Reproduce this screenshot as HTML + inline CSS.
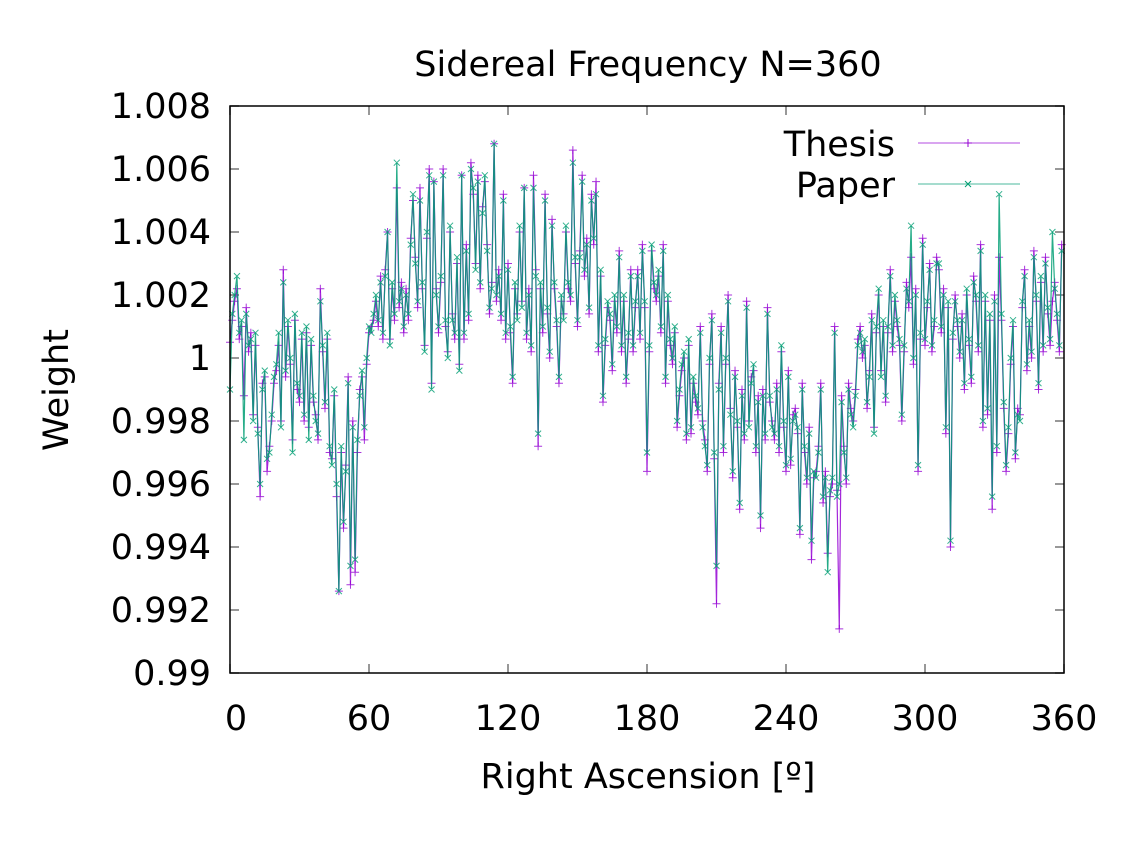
<!DOCTYPE html>
<html><head><meta charset="utf-8"><style>
body{margin:0;background:#fff}
svg text{font-family:"DejaVu Sans","Liberation Sans",sans-serif}
</style></head><body>
<svg id="chart" width="1131" height="850" viewBox="0 0 1131 850" xmlns="http://www.w3.org/2000/svg">
<rect width="1131" height="850" fill="#fff"/>
<text x="648" y="76" font-size="35" text-anchor="middle">Sidereal Frequency N=360</text>
<text x="0" y="0" font-size="35" text-anchor="middle" transform="translate(68,390) rotate(-90)">Weight</text>
<text x="648" y="788" font-size="35" text-anchor="middle">Right Ascension [º]</text>
<g id="ticks"></g>
<g id="series"></g>
<rect x="230" y="106" width="834" height="567" fill="none" stroke="#000" stroke-width="1.5"/>
<g>
<text x="895" y="156" font-size="35" text-anchor="end">Thesis</text>
<line x1="918" y1="143" x2="1020" y2="143" stroke="#9400d3" stroke-width="1" opacity="0.7"/>
<path d="M964 143h8M968 139v8" stroke="#9400d3" stroke-width="1"/>
<text x="895" y="197" font-size="35" text-anchor="end">Paper</text>
<line x1="918" y1="184" x2="1020" y2="184" stroke="#009e73" stroke-width="1" opacity="0.7"/>
<path d="M965 181l6 6M971 181l-6 6" stroke="#009e73" stroke-width="1"/>
</g>
</svg>
<script>
const xTicks=[0,60,120,180,240,300,360];
const yTicks=[0.99,0.992,0.994,0.996,0.998,1,1.002,1.004,1.006,1.008];
const yTickLabels=["0.99","0.992","0.994","0.996","0.998","1","1.002","1.004","1.006","1.008"];
// deviations from 1 in units of 1e-4, one per degree 0..359
const thesis=[5,12,18,22,6,10,-12,16,2,8,
-18,4,-22,-44,-8,-6,-36,-28,-20,-8,
-4,4,-20,28,-6,10,-2,-26,12,-10,
-14,6,-20,8,
-22,4,-14,-18,-26,22,2,-16,6,-30,
-32,-12,-44,-74,-30,-54,-34,-6,-72,-20,
-68,-30,-10,-6,-26,-2,8,10,12,18,
10,26,6,28,40,6,22,12,54,16,
24,8,22,12,38,50,32,16,54,22,
4,38,60,-8,56,22,8,24,60,10,
2,40,14,6,30,-2,58,6,36,12,
62,52,30,58,22,48,56,36,14,24,
68,18,28,12,52,6,30,8,-8,22,
14,40,18,54,6,22,2,58,28,-28,
22,8,52,14,0,44,22,10,-8,18,
14,40,22,18,66,30,10,34,58,26,
38,14,52,36,56,2,26,-14,4,16,
12,-4,18,8,34,2,18,-8,6,28,
2,16,28,6,36,16,-36,2,34,22,
18,26,8,36,-8,18,4,-2,8,-22,
-12,-4,0,-26,4,-24,-8,-14,-18,10,
-20,-26,-36,-2,14,-32,-78,-8,10,-30,
-2,20,-16,-38,-4,-22,-48,-10,-26,18,
-20,-6,-4,-30,-12,-54,-10,-26,16,-14,
-20,-26,-8,-30,2,-22,-36,-4,-34,-18,
-16,-24,-56,-8,-30,-40,-22,-64,-38,-36,
-28,-8,-46,-36,-62,-44,-40,10,-42,-86,
-12,-28,-40,-8,-16,-20,-10,6,10,0,
4,-16,-4,14,-22,8,20,-4,10,-14,
8,28,2,18,10,4,-20,2,24,16,
32,-2,22,-36,6,38,4,16,30,2,
10,32,28,8,22,-24,16,-60,6,20,
10,0,14,-10,20,4,-8,26,18,2,
36,-22,18,-18,12,-48,20,-30,32,12,
-16,-36,-24,-2,10,-32,-16,-18,16,28,
-4,10,0,34,18,-10,24,2,32,14,
4,18,24,12,2,36];
const paper=[-10,14,20,26,8,12,-26,14,4,6,
-20,8,-24,-40,-10,-4,-32,-30,-18,-6,
-2,8,-22,24,-4,12,0,-30,14,-8,
-12,8,-18,10,
-26,6,-12,-20,-24,18,4,-14,8,-28,
-34,-10,-40,-74,-28,-52,-36,-8,-66,-22,
-64,-26,-12,-4,-22,0,10,8,14,20,
12,24,8,26,40,4,24,14,62,18,
22,10,20,14,36,52,30,18,50,24,
2,40,58,-10,56,20,10,26,58,12,
0,42,12,8,32,-4,58,8,34,14,
60,54,28,56,24,46,58,34,16,22,
68,20,26,14,50,8,28,10,-6,24,
12,42,16,54,8,20,4,54,26,-24,
24,10,50,16,2,42,24,12,-6,20,
12,42,24,20,62,32,12,32,56,28,
36,16,50,38,52,4,28,-12,6,18,
14,-2,20,10,32,4,20,-6,8,26,
4,18,26,8,34,18,-30,4,36,24,
20,28,10,34,-6,20,6,0,10,-20,
-10,-2,2,-24,6,-22,-6,-12,-16,8,
-22,-28,-34,0,12,-30,-66,-10,8,-28,
0,18,-18,-36,-6,-20,-46,-12,-24,16,
-22,-8,-2,-28,-14,-50,-12,-24,14,-12,
-22,-24,-10,-28,4,-20,-34,-6,-32,-20,
-18,-22,-54,-10,-28,-38,-24,-58,-36,-38,
-30,-10,-44,-38,-68,-42,-38,8,-44,-40,
-14,-30,-38,-10,-18,-22,-12,4,8,2,
6,-14,-6,12,-24,10,22,-6,12,-12,
10,26,4,20,12,6,-18,4,22,18,
42,0,20,-34,8,36,6,18,28,4,
12,30,30,10,20,-22,18,-58,8,18,
12,2,12,-8,22,6,-6,24,20,4,
34,-20,20,-16,14,-44,18,-28,52,14,
-14,-34,-22,0,12,-30,-18,-20,18,26,
-2,12,2,32,20,-8,26,4,30,16,
6,40,22,14,4,34];
const X0=230,X1=1064,Y0=673,Y1=106;
const xs=v=>X0+(v-0)/(360-0)*(X1-X0);
const ys=v=>Y0-(v-0.99)/(1.008-0.99)*(Y0-Y1);
const NS="http://www.w3.org/2000/svg";
const tg=document.getElementById('ticks');
function mk(tag,attrs,parent){const e=document.createElementNS(NS,tag);for(const k in attrs)e.setAttribute(k,attrs[k]);parent.appendChild(e);return e;}
xTicks.forEach(t=>{const x=xs(t);
 const a=mk('path',{d:`M${x} ${Y0}v-9M${x} ${Y1}v9`,stroke:'#777','stroke-width':1.5},tg);
 
 
 const l=mk('text',{x:x+(t===0?6:0),y:730,'font-size':35,'text-anchor':'middle'},tg);l.textContent=t;
 
 
});
yTicks.forEach((t,i)=>{const y=ys(t);
 const a=mk('path',{d:`M${X0} ${y}h9M${X1} ${y}h-9`,stroke:'#777','stroke-width':1.5},tg);
 
 
 const l=mk('text',{x:211,y:y+12,'font-size':35,'text-anchor':'end'},tg);l.textContent=yTickLabels[i];
 
 
});
const sg=document.getElementById('series');
function draw(arr,color,name,mark){
 const pts=arr.map((v,i)=>[xs(i),ys(1+v/10000)]);
 const p=mk('polyline',{points:pts.map(p=>p.join(',')).join(' '),fill:'none',stroke:color,'stroke-width':1.2,opacity:0.85},sg);
 
 
 let d='';pts.forEach(([x,y])=>{d+=mark==='+'?`M${x-4} ${y}h8M${x} ${y-4}v8`:`M${x-3} ${y-3}l6 6M${x+3} ${y-3}l-6 6`;});
 const m=mk('path',{d:d,stroke:color,'stroke-width':1,fill:'none',opacity:0.8},sg);
 
 
}
draw(thesis,'#9400d3','thesis','+');
draw(paper,'#009e73','paper','x');
</script>
</body></html>
